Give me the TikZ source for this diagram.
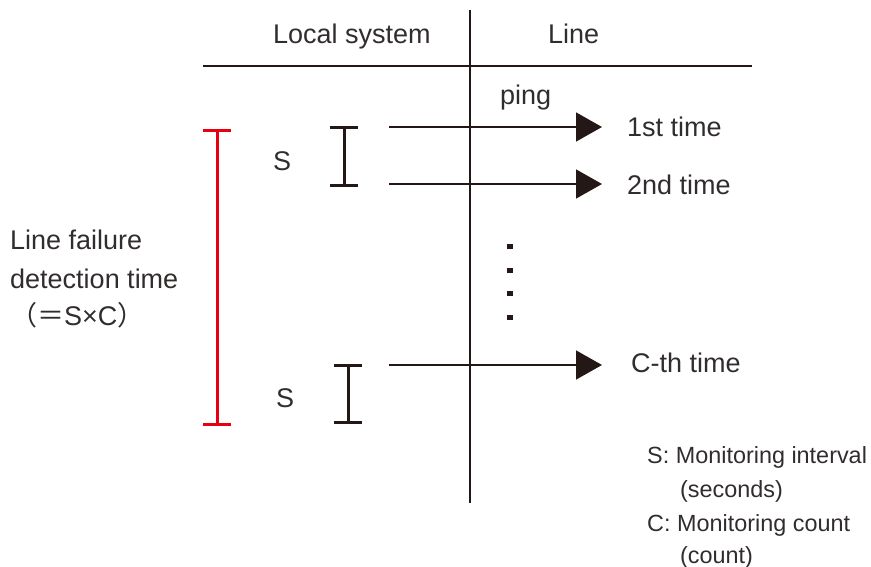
\documentclass[tikz,border=0pt]{standalone}
\usepackage{fontspec}
\setmainfont{Liberation Sans}
\newfontfamily\cjkfont{Noto Sans CJK JP}
\usetikzlibrary{arrows.meta}
\definecolor{ink}{RGB}{35,24,21}
\definecolor{txt}{RGB}{50,45,45}
\definecolor{redbar}{RGB}{230,0,18}
\tikzset{
  lbl/.style={inner sep=0pt, text=txt, font=\fontsize{27}{32}\selectfont, anchor=base west},
  leg/.style={inner sep=0pt, text=txt, font=\fontsize{23.4}{28}\selectfont, anchor=base west},
  rule/.style={draw=ink, line width=1.6pt},
  ping/.style={draw=ink, line width=1.6pt, -{Triangle[length=26pt,width=29pt]}},
  ibeam/.style={draw=ink, line width=3pt},
  redbeam/.style={draw=redbar, line width=3pt},
  dot/.style={fill=ink, draw=none, minimum width=6pt, minimum height=5pt, inner sep=0pt, shape=rectangle}
}
\begin{document}
\begin{tikzpicture}[x=1pt,y=-1pt]
\useasboundingbox (0,0) rectangle (871,567);
% frame lines
\coordinate (vtop) at (470,10);
\coordinate (vbot) at (470,503);
\coordinate (hl) at (203,66);
\coordinate (hr) at (752,66);
\draw[rule] (vtop) -- (vbot);
\draw[rule] (hl) -- (hr);
% headers
\node[lbl] (local) at (273,44) {Local system};
\node[lbl] (line) at (548,44) {Line};
% pings
\node[lbl] (pinglbl) at (500,105) {ping};
\coordinate (a1s) at (389,127); \coordinate (a1e) at (602,127);
\coordinate (a2s) at (389,184); \coordinate (a2e) at (602,184);
\coordinate (a3s) at (389,365); \coordinate (a3e) at (602,365);
\draw[ping] (a1s) -- (a1e);
\draw[ping] (a2s) -- (a2e);
\draw[ping] (a3s) -- (a3e);
\node[lbl] (t1) at (627,137) {1st time};
\node[lbl] (t2) at (627,195) {2nd time};
\node[lbl] (tc) at (631,372) {C-th time};
% dots
\node[dot] (d1) at (510,246) {};
\node[dot] (d2) at (510,270) {};
\node[dot] (d3) at (510,293) {};
\node[dot] (d4) at (510,317) {};
% I-beams
\coordinate (b1t) at (344,128); \coordinate (b1b) at (344,186);
\draw[ibeam] (b1t) -- (b1b);
\draw[ibeam] ([xshift=-14pt]b1t) -- ([xshift=14pt]b1t);
\draw[ibeam] ([xshift=-14pt]b1b) -- ([xshift=14pt]b1b);
\coordinate (b2t) at (348,365); \coordinate (b2b) at (348,422);
\draw[ibeam] (b2t) -- (b2b);
\draw[ibeam] ([xshift=-14pt]b2t) -- ([xshift=14pt]b2t);
\draw[ibeam] ([xshift=-14pt]b2b) -- ([xshift=14pt]b2b);
\node[lbl] (s1) at (273,171) {S};
\node[lbl] (s2) at (276,407) {S};
% red bar
\coordinate (rt) at (217,131); \coordinate (rb) at (217,424);
\draw[redbeam] (rt) -- (rb);
\draw[redbeam] ([xshift=-14pt]rt) -- ([xshift=14pt]rt);
\draw[redbeam] ([xshift=-14pt]rb) -- ([xshift=14pt]rb);
% left label
\node[lbl] (lf1) at (10,250) {Line failure};
\node[lbl] (lf2) at (10,288) {detection time};
\node[lbl] (lf3) at (10,325) {{\cjkfont （＝}S×C{\cjkfont ）}};
% legend
\node[leg] (g1) at (647,463) {S: Monitoring interval};
\node[leg] (g2) at (680,497) {(seconds)};
\node[leg] (g3) at (647,531) {C: Monitoring count};
\node[leg] (g4) at (680,563) {(count)};
\end{tikzpicture}
\end{document}
